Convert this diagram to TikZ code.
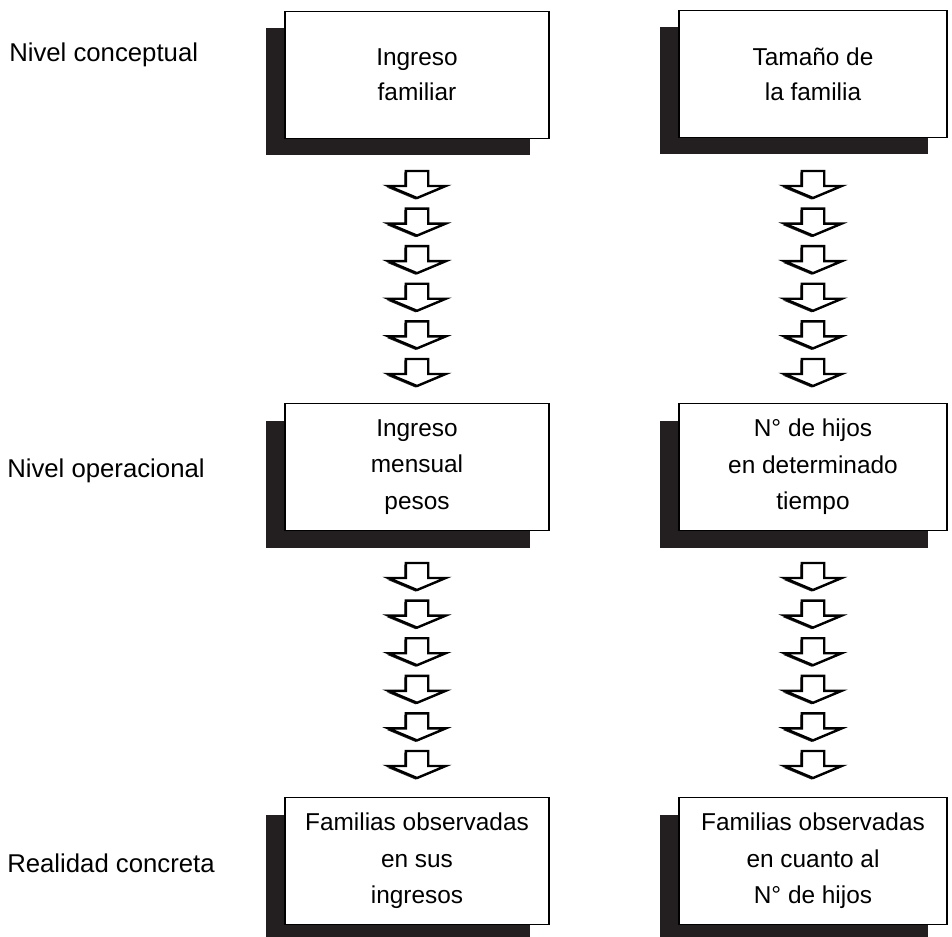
\documentclass[tikz,border=0pt]{standalone}
\usepackage{fontspec}
\setmainfont{Liberation Sans}
\usetikzlibrary{shapes,arrows.meta,shadows,positioning}

\definecolor{shadowblack}{RGB}{35,31,32}

\tikzset{
  box/.style={draw=black, line width=1.3pt, fill=white, align=center,
    inner sep=0pt, minimum width=198pt, minimum height=95.25pt,
    font=\fontsize{18.3}{26}\selectfont,
    drop shadow={shadow xshift=-14.25pt, shadow yshift=-12.75pt,
      fill=shadowblack, opacity=1}},
  widebox/.style={box, minimum width=201pt},
  tall/.style={font=\fontsize{18.3}{27.5}\selectfont},
  level/.style={anchor=base west, inner sep=0pt,
    font=\fontsize{19.3}{23}\selectfont},
  hollowdown/.pic={
    \fill[shadowblack]
      (-12.7,1.5) -- (9.7,1.5) -- (9.7,16.5) -- (27.2,16.5) -- (-1.5,28.5)
      -- (-30.2,16.5) -- (-12.7,16.5) -- cycle;
    \draw[line width=1.8pt, fill=white, line join=miter]
      (-11.2,0) -- (11.2,0) -- (11.2,15) -- (28.7,15) -- (0,27)
      -- (-28.7,15) -- (-11.2,15) -- cycle;
  }
}

\begin{document}
\begin{tikzpicture}[x=0.75pt,y=-0.75pt]

 \useasboundingbox (0,0) rectangle (952,937);

 % levels
 \node[level] (conc) at (9,62)  {Nivel conceptual};
 \node[level] (oper) at (7,477) {Nivel operacional};
 \node[level] (real) at (7,872) {Realidad concreta};

 % boxes, left column
 \node[box] (ingfam) at (417,75)  {Ingreso\\familiar};
 \node[box,tall] (ingmen) at (417,467) {Ingreso\\mensual\\pesos};
 \node[box,tall] (obsing) at (417,861) {Familias observadas\\en sus\\ingresos};

 % boxes, right column
 \node[widebox] (tamfam) at (813,74)  {Tamaño de\\la familia};
 \node[widebox,tall] (nhijos) at (813,467) {N° de hijos\\en determinado\\tiempo};
 \node[widebox,tall] (obshij) at (813,861) {Familias observadas\\en cuanto al\\N° de hijos};

 % arrows
 \foreach \k in {0,...,5} {
   \pic (arrA\k) at (417,171+37.6*\k) {hollowdown};
   \pic (arrB\k) at (813,171+37.6*\k) {hollowdown};
   \pic (arrC\k) at (417,563+37.6*\k) {hollowdown};
   \pic (arrD\k) at (813,563+37.6*\k) {hollowdown};
 }

\end{tikzpicture}
\end{document}
